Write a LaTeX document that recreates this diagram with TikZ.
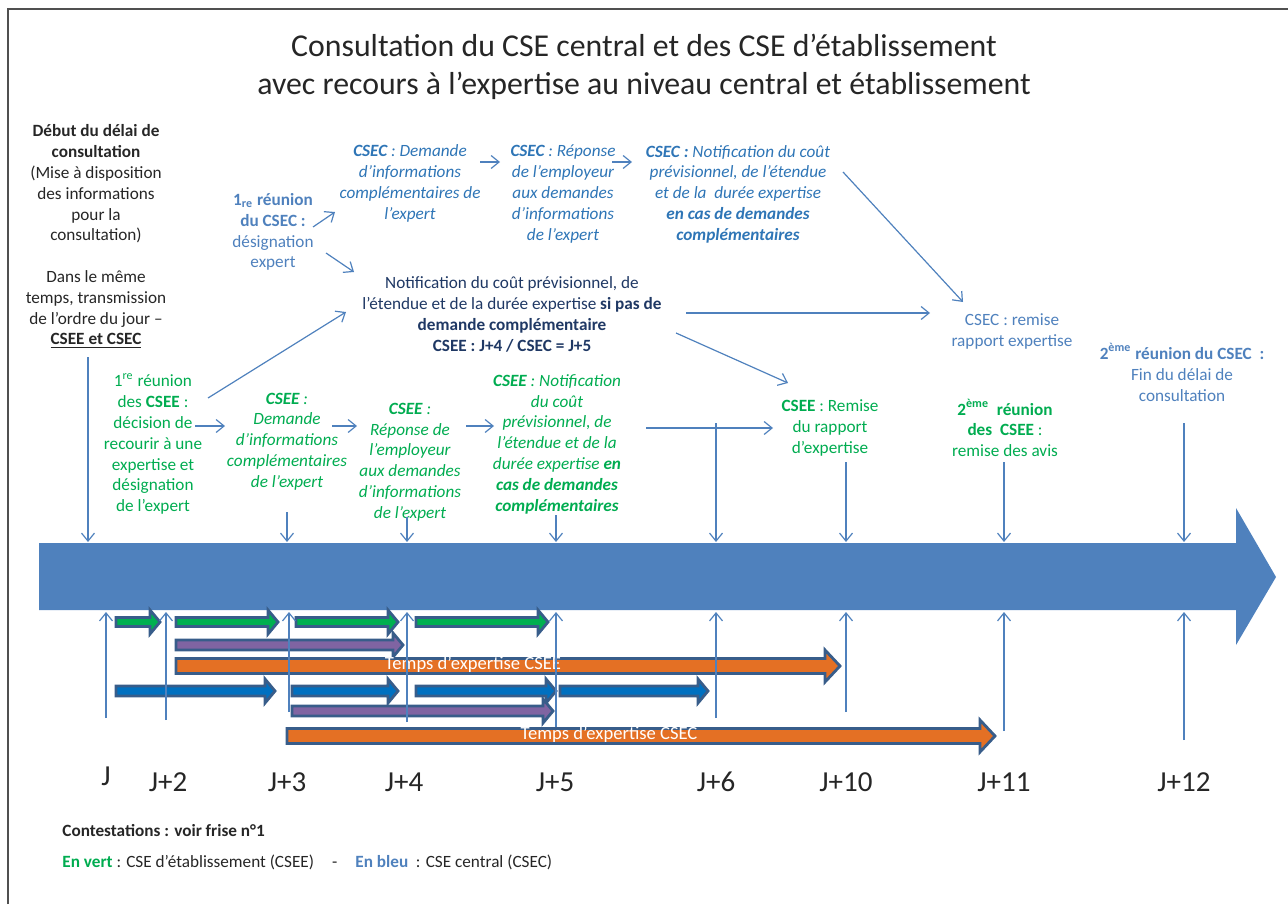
\documentclass[tikz,border=0pt]{standalone}
\usepackage{fontspec}
\setmainfont{Carlito}
\usetikzlibrary{arrows.meta}
\definecolor{csgreen}{RGB}{0,172,80}
\definecolor{csblue}{RGB}{46,117,182}
\definecolor{cslight}{RGB}{79,129,189}
\definecolor{csnavy}{RGB}{31,56,100}
\definecolor{linecol}{RGB}{79,129,189}
\definecolor{bigblue}{RGB}{79,129,189}
\definecolor{fillgreen}{RGB}{0,176,80}
\definecolor{fillpurple}{RGB}{128,100,162}
\definecolor{fillorange}{RGB}{228,112,36}
\definecolor{fillblue}{RGB}{0,112,192}
\definecolor{outline}{RGB}{56,93,138}
\definecolor{framegray}{RGB}{80,80,80}

% block arrow: fill, x start, x tip, y, half body, head half, head length
\newcommand{\barrow}[7]{%
  \draw[barr, fill=#1] (#2,#4-#5) -- (#3-#7,#4-#5) -- (#3-#7,#4-#6) -- (#3,#4)
    -- (#3-#7,#4+#6) -- (#3-#7,#4+#5) -- (#2,#4+#5) -- cycle;}

\begin{document}
\begin{tikzpicture}[x=0.5pt,y=-0.5pt,
  txt/.style={font=\fontsize{8.6}{10.4}\selectfont, align=center, inner sep=0pt},
  itxt/.style={txt, font=\fontsize{8.6}{10.4}\selectfont\itshape},
  gtxt/.style={txt, text=csgreen},
  gitxt/.style={itxt, text=csgreen},
  bitxt/.style={itxt, text=csblue},
  ltxt/.style={txt, text=cslight},
  daylab/.style={font=\fontsize{14.5}{17}\selectfont, inner sep=0pt, text=black!85},
  arr/.style={-{Straight Barb[length=4pt,width=6.5pt]}, draw=linecol, line width=0.6pt},
  barr/.style={draw=outline, line width=1.4pt, line join=miter},
  frame/.style={draw=framegray, line width=1pt},
]
\useasboundingbox (0,0) rectangle (1288,904);

%% frame
\draw[frame] (8,904) -- (8,9) -- (1288,9);

%% title
\node[font=\fontsize{15.9}{19.2}\selectfont, align=center, inner sep=0pt, text=black!85]
  (title) at (644,67)
  {Consultation du CSE central et des CSE d’établissement\\
   avec recours à l’expertise au niveau central et établissement};

%% big time arrow
\fill[bigblue] (39,543) -- (1236,543) -- (1236,508) -- (1276,577)
  -- (1236,645) -- (1236,610) -- (39,610) -- cycle;
\coordinate (btop) at (39,542);
\coordinate (bbot) at (39,612);

%% left text
\node[txt, text=black!85] (debut) at (96,237)
  {\textbf{Début du délai de}\\\textbf{consultation}\\(Mise à disposition\\
   des informations\\pour la\\consultation)\\[10.4pt]
   Dans le même\\temps, transmission\\de l’ordre du jour –\\
   \underline{\textbf{CSEE et CSEC}}};

%% CSEC texts
\node[ltxt] (reu1c) at (273,232)
  {\textbf{1\textsubscript{re} réunion}\\\textbf{du CSEC :}\\désignation\\expert};
\node[bitxt] (csecA) at (410,183.5)
  {\textbf{CSEC} : Demande\\d’informations\\complémentaires de\\l’expert};
\node[bitxt] (csecB) at (563,194)
  {\textbf{CSEC} : Réponse\\de l’employeur\\aux demandes\\d’informations\\de l’expert};
\node[bitxt] (csecC) at (738,194)
  {\textbf{CSEC :} Notification du coût\\prévisionnel, de l’étendue\\
   et de la\ \ durée expertise\\\textbf{en cas de demandes}\\\textbf{complémentaires}};
\node[txt, text=csnavy] (notif) at (512,314.5)
  {Notification du coût prévisionnel, de\\
   l’étendue et de la durée expertise \textbf{si pas de}\\
   \textbf{demande complémentaire}\\\textbf{CSEE : J+4 / CSEC = J+5}};
\node[ltxt] (remC) at (1012,331.5) {CSEC : remise\\rapport expertise};
\node[ltxt] (reu2c) at (1182,372.5)
  {\textbf{2\textsuperscript{ème} réunion du CSEC~ :}\\Fin du délai de\\consultation};

%% CSEE texts
\node[gtxt] (reu1e) at (153,444)
  {1\textsuperscript{re} réunion\\des \textbf{CSEE} :\\décision de\\recourir à une\\
   expertise et\\désignation\\de l’expert};
\node[gitxt] (cseeA) at (287,441.5)
  {\textbf{CSEE} :\\Demande\\d’informations\\complémentaires\\de l’expert};
\node[gitxt] (cseeB) at (410,462)
  {\textbf{CSEE} :\\Réponse de\\l’employeur\\aux demandes\\d’informations\\de l’expert};
\node[gitxt] (cseeC) at (557,444)
  {\textbf{CSEE} : Notification\\du coût\\prévisionnel, de\\l’étendue et de la\\
   durée expertise \textbf{en}\\\textbf{cas de demandes}\\\textbf{complémentaires}};
\node[gtxt] (remE) at (830,428) {\textbf{CSEE} : Remise\\du rapport\\d’expertise};
\node[gtxt] (reu2e) at (1005,428)
  {\textbf{2\textsuperscript{ème}\ \ réunion}\\\textbf{des\ \ CSEE} :\\remise des avis};

%% arrow ends between texts
\coordinate (a1s) at (313,227); \coordinate (a1e) at (335,212);
\coordinate (a2s) at (326,253); \coordinate (a2e) at (354,272);
\coordinate (a3s) at (208,398); \coordinate (a3e) at (346,312);
\coordinate (a4s) at (480,162); \coordinate (a4e) at (500,162);
\coordinate (a5s) at (612,162); \coordinate (a5e) at (632,162);
\coordinate (a6s) at (843,172); \coordinate (a6e) at (963,302);
\coordinate (a7s) at (686,313); \coordinate (a7e) at (930,313);
\coordinate (a8s) at (676,333); \coordinate (a8e) at (788,383);
\coordinate (a9s) at (195,426); \coordinate (a9e) at (225,426);
\coordinate (a10s) at (332,426); \coordinate (a10e) at (357,426);
\coordinate (a11s) at (466,426); \coordinate (a11e) at (494,426);
\coordinate (a12s) at (646,428); \coordinate (a12e) at (773,428);
\foreach \n in {1,...,12}
  \draw[arr] (a\n s) -- (a\n e);

%% block arrows under the timeline
\barrow{fillgreen}{116}{160}{622}{4.5}{12}{10}
\barrow{fillgreen}{176}{278}{622}{4.5}{12}{10}
\barrow{fillgreen}{296}{398}{622}{4.5}{12}{10}
\barrow{fillgreen}{416}{548}{622}{4.5}{12}{10}
\barrow{fillpurple}{176}{403}{645}{5}{12}{10}
\barrow{fillorange}{176}{840}{666}{7.5}{16}{15}
\barrow{fillblue}{116}{275}{691}{5}{12}{10}
\barrow{fillblue}{292}{398}{691}{5}{12}{10}
\barrow{fillblue}{416}{556}{691}{5}{12}{10}
\barrow{fillblue}{560}{708}{691}{5}{12}{10}
\barrow{fillpurple}{292}{553}{711}{5}{12}{10}
\barrow{fillorange}{287}{995}{736}{7.5}{16}{15}
\node[txt, font=\fontsize{9.3}{11}\selectfont, text=white] (texpE) at (473,664)
  {Temps d’expertise CSEE};
\node[txt, font=\fontsize{9.3}{11}\selectfont, text=white] (texpC) at (609,734)
  {Temps d’expertise CSEC};

%% ticks into the timeline
\foreach \n/\x/\ya in {0/88/357, 3/287/512, 4/407/517, 5/556/515,
                      6/716/423, 10/846/462, 11/1004/462, 12/1184/423}{
  \coordinate (top\n) at (\x,\ya);
  \draw[arr] (top\n) -- (top\n |- btop);
}
\foreach \n/\x/\yb in {0/106/718, 2/166/720, 3/289/712, 4/407/722, 5/556/727,
                      6/716/718, 10/846/712, 11/1004/731, 12/1184/740}{
  \coordinate (bot\n) at (\x,\yb);
  \draw[arr] (bot\n) -- (bot\n |- bbot);
}

%% day labels
\node[daylab] (dayJ) at (106,776) {J};
\foreach \n/\x in {2/168, 3/287, 4/404, 5/555, 6/716, 10/846, 11/1004, 12/1184}
  \node[daylab] (day\n) at (\x,782) {J+\n};

%% legend
\node[txt, anchor=west, text=black!85] (contest) at (62,831)
  {\textbf{Contestations : voir frise n°1}};
\node[txt, anchor=west, text=black!85] (legend) at (62,862)
  {\textcolor{csgreen}{\textbf{En vert}} : CSE d’établissement (CSEE)\hspace{9pt}-\hspace{9pt}%
   \textcolor{cslight}{\textbf{En bleu}}\ \ : CSE central (CSEC)};

\end{tikzpicture}
\end{document}
